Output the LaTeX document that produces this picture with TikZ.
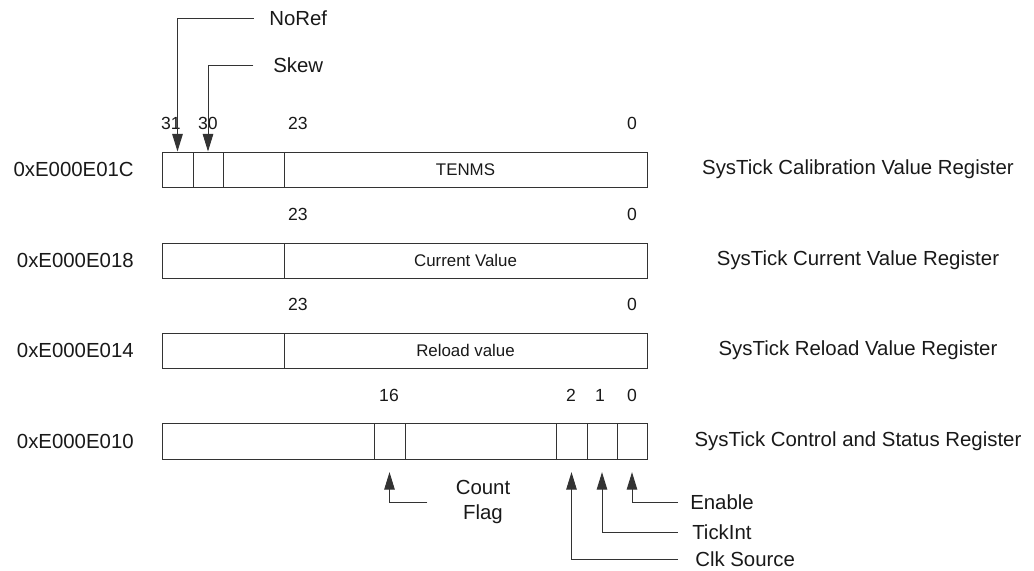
\documentclass[tikz,border=0pt]{standalone}
\usepackage{fontspec}
\setmainfont{Liberation Sans}
\usetikzlibrary{arrows.meta, fit, positioning}

\tikzset{
	cell/.style={draw=black!80, line width=0.7pt, inner sep=0pt},
	field/.style={font=\fontsize{12}{14}\selectfont, text=black!90},
	bitno/.style={font=\fontsize{12.5}{14}\selectfont, text=black!90},
	addr/.style={font=\fontsize{14.5}{17}\selectfont, text=black!90, anchor=east, inner sep=0pt},
	regname/.style={font=\fontsize{14.5}{17}\selectfont, text=black!90, inner sep=0pt},
	tag/.style={font=\fontsize{14.5}{17}\selectfont, text=black!90, anchor=west, inner sep=0pt},
	arr/.style={draw=black!80, line width=0.7pt, -{Triangle[length=12.5pt,width=7.5pt]}}
}

\begin{document}
\begin{tikzpicture}[x=0.025cm, y=-0.025cm]
		% one unit = one pixel of the reference, y downwards
		\useasboundingbox (0,0) rectangle (1034,571);
		
		% 1. Calibration value register
		\foreach \l/\r/\n in {162/193/cal31, 193/223/cal30, 223/284/calres, 284/647/caltenms}
			\node[cell, fit={(\l,152) (\r,187)}] (\n) {};
		\node[field] (tenms) at (caltenms.center) {TENMS};
		
		% 2. Current value register
		\node[cell, fit={(162,243) (284,278)}] (curres) {};
		\node[cell, fit={(284,243) (647,278)}] (curfield) {};
		\node[field] (curval) at (curfield.center) {Current Value};
		
		% 3. Reload value register
		\node[cell, fit={(162,333) (284,368)}] (rldres) {};
		\node[cell, fit={(284,333) (647,368)}] (rldfield) {};
		\node[field] (rldval) at (rldfield.center) {Reload value};
		
		% 4. Control and status register
		\foreach \l/\r/\n in {162/374/ctlhi, 374/405/ctl16, 405/556/ctlmid, 556/587/ctl2, 587/617/ctl1, 617/647/ctl0}
			\node[cell, fit={(\l,423) (\r,459)}] (\n) {};
		
		% Bit numbers
		\node[bitno] (b31) at (171,123) {31};
		\node[bitno] (b30) at (208,123) {30};
		\node[bitno] (calb23) at (298,123) {23};
		\node[bitno] (calb0) at (632,123) {0};
		\node[bitno] (curb23) at (298,214) {23};
		\node[bitno] (curb0) at (632,214) {0};
		\node[bitno] (rldb23) at (298,304) {23};
		\node[bitno] (rldb0) at (632,304) {0};
		\node[bitno] (b16) at (389,395) {16};
		\node[bitno] (b2) at (571,395) {2};
		\node[bitno] (b1) at (600,395) {1};
		\node[bitno] (b0) at (632,395) {0};
		
		% Addresses
		\node[addr] (addrcal) at (134,169.5) {0xE000E01C};
		\node[addr] (addrcur) at (134,260.5) {0xE000E018};
		\node[addr] (addrrld) at (134,350.5) {0xE000E014};
		\node[addr] (addrctl) at (134,441) {0xE000E010};
		
		% Register names
		\node[regname] (namecal) at (858,169.5) {SysTick Calibration Value Register};
		\node[regname] (namecur) at (858,260.5) {SysTick Current Value Register};
		\node[regname] (namerld) at (858,350.5) {SysTick Reload Value Register};
		\node[regname] (namectl) at (858,441) {SysTick Control and Status Register};
		
		% Flags pointing down into the calibration register
		\node[tag] (noref) at (269,18) {NoRef};
		\node[tag] (skew) at (273,65) {Skew};
		\draw[arr] ([xshift=-11pt]noref.west) -| (cal31.north);
		\draw[arr] ([xshift=-14pt]skew.west) -| (cal30.north);
		
		% Flags pointing up into the control register
		\node[regname, align=center] (cflag) at (483,502) {Count\\[1pt]Flag};
		\node[tag] (enable) at (690,502) {Enable};
		\node[tag] (tickint) at (692,532) {TickInt};
		\node[tag] (clksrc) at (695,559) {Clk Source};
		\draw[arr] ([xshift=-20pt]cflag.west) -| ([yshift=-9pt]ctl16.south);
		\draw[arr] ([xshift=-8.5pt]enable.west) -| ([yshift=-9pt]ctl0.south);
		\draw[arr] ([xshift=-10pt]tickint.west) -| ([yshift=-9pt]ctl1.south);
		\draw[arr] ([xshift=-12pt]clksrc.west) -| ([yshift=-9pt]ctl2.south);
		
\end{tikzpicture}
\end{document}
